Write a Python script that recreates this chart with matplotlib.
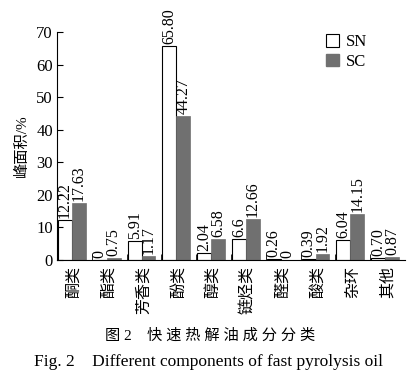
import numpy as np
import matplotlib.pyplot as plt
from matplotlib.patches import Patch

plt.rcParams['font.family'] = ['Liberation Serif', 'Noto Sans CJK SC']

## data
categories = ['酮类', '酯类', '芳香类', '酚类', '醇类', '链烃类', '醛类', '酸类', '杂环', '其他']
sn = [12.22, 0, 5.91, 65.80, 2.04, 6.6, 0.26, 0.39, 6.04, 0.70]
sc = [17.63, 0.75, 1.17, 44.27, 6.58, 12.66, 0, 1.92, 14.15, 0.87]
sn_text = ['12.22', '0', '5.91', '65.80', '2.04', '6.6', '0.26', '0.39', '6.04', '0.70']
sc_text = ['17.63', '0.75', '1.17', '44.27', '6.58', '12.66', '0', '1.92', '14.15', '0.87']

fig = plt.figure(figsize=(4.12, 3.76), dpi=100)
ax = fig.add_axes([57 / 412, 1 - 260 / 376, 348 / 412, 228 / 376])

x = np.arange(len(categories))
w = 0.4
ax.bar(x - 0.07 - w / 2, sn, w, color='white', edgecolor='black', linewidth=0.8)
ax.bar(x - 0.07 + w / 2, sc, w, color='#707070', edgecolor='#707070', linewidth=0.5)

for i in range(len(categories)):
    ax.text(x[i] - 0.07 - w / 2, sn[i] + 0.6, sn_text[i], rotation=90,
            ha='center', va='bottom', fontsize=11.5)
    ax.text(x[i] - 0.07 + w / 2, sc[i] + 0.6, sc_text[i], rotation=90,
            ha='center', va='bottom', fontsize=11.5)

ax.set_xlim(-0.5, 9.5)
ax.set_ylim(0, 70)
ax.set_yticks(range(0, 71, 10))
ax.set_xticks(x)
ax.set_xticklabels(categories, rotation=90, fontsize=11.5)
ax.set_xticks(x[:-1] + 0.5, minor=True)
ax.tick_params(axis='x', which='major', length=0, pad=4)
ax.tick_params(axis='x', which='minor', direction='in', length=4)
ax.tick_params(axis='y', direction='in', length=4, labelsize=12, pad=3)

ax.spines['top'].set_visible(False)
ax.spines['right'].set_visible(False)
ax.set_ylabel('峰面积/%', fontsize=11, labelpad=5)

handles = [Patch(facecolor='white', edgecolor='black', linewidth=0.8),
           Patch(facecolor='#707070', edgecolor='#707070')]
fig.legend(handles, ['SN', 'SC'], loc='upper left',
           bbox_to_anchor=(326 / 412, 1 - 34 / 376), frameon=False,
           fontsize=12, handlelength=0.8, handleheight=0.8,
           handletextpad=0.4, labelspacing=0.2, borderpad=0, borderaxespad=0)

fig.text(210 / 412, 1 - 336 / 376, '图 2　快 速 热 解 油 成 分 分 类',
         ha='center', va='center', fontsize=11)
fig.text(208 / 412, 1 - 362 / 376, 'Fig. 2　Different components of fast pyrolysis oil',
         ha='center', va='center', fontsize=12.5)

fig.savefig('out.png', dpi=100)
